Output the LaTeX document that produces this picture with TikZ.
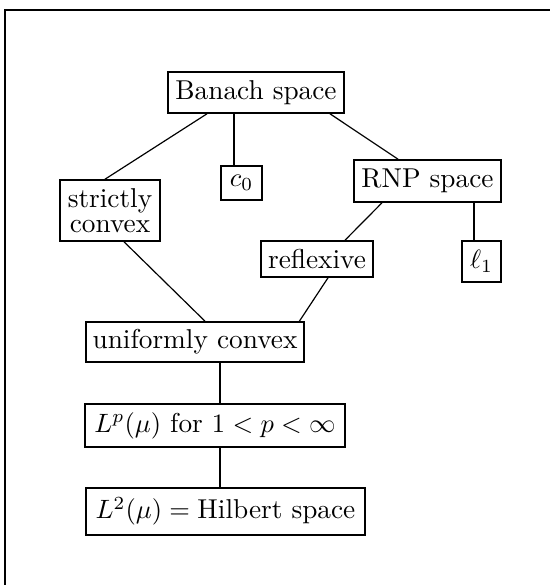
\documentclass[tikz,border=0pt]{standalone}
\usetikzlibrary{calc}
\begin{document}
\begin{tikzpicture}[x=0.3774pt,y=-0.3774pt,
  box/.style={draw,line width=0.6pt,inner sep=0pt,align=center,
    font=\fontsize{10.3}{9.3}\selectfont},
  link/.style={line width=0.45pt}]
\useasboundingbox (0,0) rectangle (550,585);
\draw[line width=0.5pt] (5,585) -- (5,10) -- (550,10);
\node[box,minimum width=66.42pt,minimum height=15.47pt] (banach) at (256,92.5) {Banach space};
\node[box,minimum width=15.47pt,minimum height=12.83pt] (c0) at (241.5,183) {$c_0$};
\node[box,minimum width=37.74pt,minimum height=23.02pt] (strict) at (110,210.5) {strictly\\convex};
\node[box,minimum width=55.48pt,minimum height=15.85pt] (rnp) at (427.5,181) {RNP space};
\node[box,minimum width=42.27pt,minimum height=13.59pt] (refl) at (317,259) {reflexive};
\node[box,minimum width=14.72pt,minimum height=15.47pt] (l1) at (481.5,261.5) {$\ell_1$};
\node[box,minimum width=82.27pt,minimum height=15.10pt] (unif) at (195,342) {uniformly convex};
\node[box,minimum width=98.12pt,minimum height=16.23pt] (lp) at (215,425.5) {$L^p(\mu)$ for $1<p<\infty$};
\node[box,minimum width=105.29pt,minimum height=17.74pt] (l2) at (225.5,511.5) {$L^2(\mu)=\mbox{Hilbert space}$};
\coordinate (bc) at ($(banach.south)+(-22,0)$);
\coordinate (rl) at ($(rnp.south)+(46.5,0)$);
\coordinate (ul) at ($(unif.south)+(25,0)$);
\coordinate (ll) at ($(lp.south)+(5,0)$);
\draw[link] ($(banach.south)+(-49,0)$) -- ($(strict.north)+(-5,0)$);
\draw[link] (bc) -- (bc |- c0.north);
\draw[link] ($(banach.south)+(74,0)$) -- ($(rnp.north)+(-29.5,0)$);
\draw[link] ($(rnp.south)+(-45.5,0)$) -- ($(refl.north)+(28,0)$);
\draw[link] (rl) -- (rl |- l1.north);
\draw[link] ($(strict.south)+(14,0)$) -- ($(unif.north)+(10,0)$);
\draw[link] ($(refl.south)+(11,0)$) -- ($(unif.north)+(104.4,0)$);
\draw[link] (ul) -- (ul |- lp.north);
\draw[link] (ll) -- (ll |- l2.north);
\end{tikzpicture}
\end{document}
